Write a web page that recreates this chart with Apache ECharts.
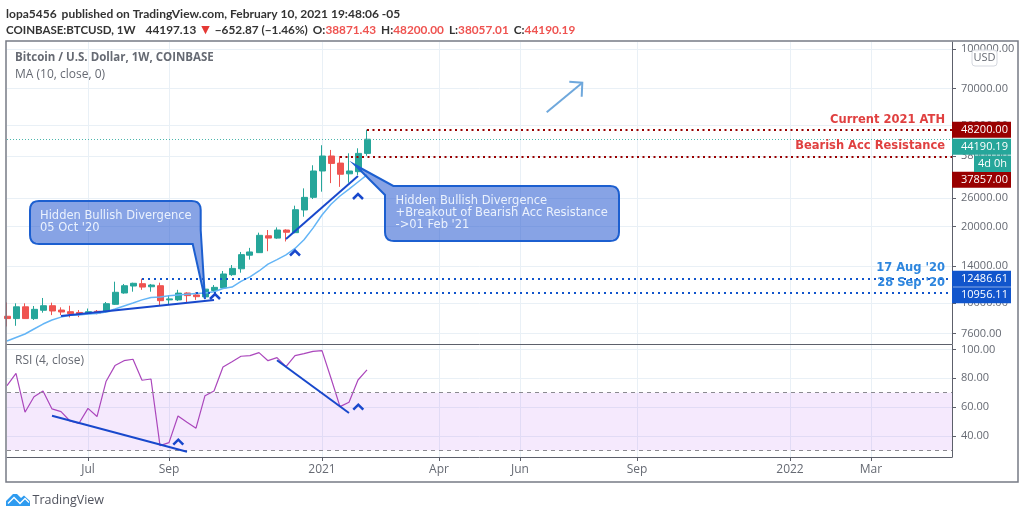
<!DOCTYPE html>
<html>
<head>
<meta charset="utf-8">
<style>
    html, body {margin:0;padding:0;background:#ffffff;}
    #chart {width:1024px;height:518px;}
</style>
<script src="https://cdn.jsdelivr.net/npm/echarts@6/dist/echarts.min.js"></script>
</head>
<body>
<div id="chart"></div>
<script>
    var weeks = [
        '2020-05-04','2020-05-11','2020-05-18','2020-05-25','2020-06-01','2020-06-08','2020-06-15','2020-06-22','2020-06-29','2020-07-06',
        '2020-07-13','2020-07-20','2020-07-27','2020-08-03','2020-08-10','2020-08-17','2020-08-24','2020-08-31','2020-09-07','2020-09-14',
        '2020-09-21','2020-09-28','2020-10-05','2020-10-12','2020-10-19','2020-10-26','2020-11-02','2020-11-09','2020-11-16','2020-11-23',
        '2020-11-30','2020-12-07','2020-12-14','2020-12-21','2020-12-28','2021-01-04','2021-01-11','2021-01-18','2021-01-25','2021-02-01',
        '2021-02-08','2021-02-15','2021-02-22','2021-03-01','2021-03-08','2021-03-15','2021-03-22','2021-03-29','2021-04-05','2021-04-12',
        '2021-04-19','2021-04-26','2021-05-03','2021-05-10','2021-05-17','2021-05-24','2021-05-31','2021-06-07','2021-06-14','2021-06-21',
        '2021-06-28','2021-07-05','2021-07-12','2021-07-19','2021-07-26','2021-08-02','2021-08-09','2021-08-16','2021-08-23','2021-08-30',
        '2021-09-06','2021-09-13','2021-09-20','2021-09-27','2021-10-04','2021-10-11','2021-10-18','2021-10-25','2021-11-01','2021-11-08',
        '2021-11-15','2021-11-22','2021-11-29','2021-12-06','2021-12-13','2021-12-20','2021-12-27','2022-01-03','2022-01-10','2022-01-17',
        '2022-01-24','2022-01-31','2022-02-07','2022-02-14','2022-02-21','2022-02-28','2022-03-07','2022-03-14','2022-03-21','2022-03-28',
        '2022-04-04','2022-04-11','2022-04-18','2022-04-25','2022-05-02','2022-05-09'
    ];
    var tickDates = ['2020-07-06','2020-09-07','2021-01-04','2021-04-05','2021-06-07','2021-09-06','2022-01-03','2022-03-07'];
    var tickNames = ['Jul','Sep','2021','Apr','Jun','Sep','2022','Mar'];
    var priceTicks = [7600,10000,14000,20000,26000,38000,50000,70000,100000];
    var rsiTicks = [40,60,80,100];

    // open, close, low, high
    var candles = [
        [8885,8700,8100,10070],[8700,9680,8150,9990],[9680,8700,8680,9990],[8700,9460,8590,9750],[9380,9775,9176,10486],
        [9775,9320,8980,10050],[9400,9235,8980,9635],[9260,9094,8795,9775],[9197,9070,8815,9400],[9094,9260,9045,9530],
        [9295,9127,9045,9400],[9260,9956,9176,10110],[9900,11040,9838,12152],[10970,11717,10900,11905],[11685,11978,11100,12043],
        [11934,11575,11290,12486],[11606,11790,11100,11905],[11717,10230,9838,12043],[10306,10400,9838,10748],[10306,10960,10210,11290],
        [10970,10710,10047,11040],[10780,10610,10306,11040],[10590,11360,10560,11460],[11225,11545,11077,11790],[11490,13031,11390,13390],
        [12950,13710,12810,14130],[13660,15530,13186,15910],[15450,15910,14840,16510],[15810,18500,15790,18950],[18430,18040,16020,19410],
        [18040,19410,17920,19880],[19410,19020,17500,19530],[18950,23330,18850,24200],[23280,26095,21895,28310],[26100,33140,25700,34900],
        [33140,37960,27473,41850],[37960,35500,29690,40100],[35600,32170,28700,37960],[32300,33140,29800,38900],[32930,38871,31970,40700],
        [38871.43,44190.19,38057.01,48200]
    ];
    var ma10 = [
        7100,7330,7565,7915,8280,8590,8815,8960,8979,9070,
        9110,9235,9485,9750,10020,10306,10540,10590,10690,10780,
        10850,10920,10970,11100,11420,11575,12190,12696,13390,14240,
        14840,15490,16420,17760,19750,22240,24500,26420,28130,30000,31970
    ];
    var rsi = [
        74.9,83.4,56.4,67.2,71.2,58.7,56.8,50.3,48.7,59.1,
        53.4,77.7,88.8,92.2,93.2,78.6,79.5,33.2,35.3,53.8,
        49.4,45.3,67.9,71.2,87.8,91.5,95.3,95.7,97.8,92.2,
        94.3,88.1,95.7,97.1,98.7,99.2,80,60.3,63.3,78.8,85.8
    ];

    var font = '"Open Sans", sans-serif';
    var headFont = 'Lato, sans-serif';
    var deco = 'DejaVu Sans, sans-serif';
    var lastIdx = weeks.length - 1;
    var blue = '#1848cc', tagBlue = '#1155cc', darkRed = '#990000', teal = '#26a69a';

    function isTick(idx, value) {return tickDates.indexOf(value) >= 0;}

    // rounded outline for the callouts, corners carry a radius as third item
    function outline(pts) {
        var out = [], n = pts.length;
        for (var i = 0; i < n; i++) {
            var p = pts[i], r = p[2] || 0;
            if (!r) {out.push([p[0], p[1]]);continue;}
            var a = pts[(i + n - 1) % n], b = pts[(i + 1) % n];
            var la = Math.hypot(a[0]-p[0], a[1]-p[1]), lb = Math.hypot(b[0]-p[0], b[1]-p[1]);
            var s = [p[0]+(a[0]-p[0])*r/la, p[1]+(a[1]-p[1])*r/la];
            var e = [p[0]+(b[0]-p[0])*r/lb, p[1]+(b[1]-p[1])*r/lb];
            for (var t = 0; t <= 1.001; t += 0.2) {
                out.push([
                    (1-t)*(1-t)*s[0]+2*t*(1-t)*p[0]+t*t*e[0],
                    (1-t)*(1-t)*s[1]+2*t*(1-t)*p[1]+t*t*e[1]
                ]);
            }
        }
        return out;
    }
    function callout(pts) {
        return {type:'polygon', z:60, silent:true, shape:{points:outline(pts)},
            style:{fill:'rgba(36,88,208,0.55)', stroke:'#1c5fd0', lineWidth:2}};
    }
    function note(x, y, text, size, color, weight, align, family) {
        return {type:'text', z:70, silent:true, x:x, y:y, style:{text:text, font:(weight||'normal')+' '+size+'px '+(family||font),
            fill:color, align:align||'left', verticalAlign:'middle'}};
    }
    function chevron(x, y) {
        return {type:'polyline', z:55, silent:true, shape:{points:[[x-5,y+3],[x,y-2],[x+5,y+3]]},
            style:{stroke:blue, lineWidth:2.5, fill:null}};
    }
    function hline(from, value, color, width, dash, tagColor, tagText, offset) {
        var start = {coord:[weeks[from], value], lineStyle:{color:color, width:width, type:dash}};
        start.label = tagText ? {show:true, position:'end', distance:0, offset:[0, offset||0], formatter:tagText,
            color:'#ffffff', fontFamily:font, fontSize:11, backgroundColor:tagColor, width:50, height:16, lineHeight:16,
            padding:[0,0,0,9], align:'left', verticalAlign:'middle'} : {show:false};
        return [start, {coord:[weeks[lastIdx], value]}];
    }
    function trend(i1, v1, i2, v2) {
        return [{coord:[weeks[i1], v1], lineStyle:{color:blue, width:2, type:'solid'}, label:{show:false}}, {coord:[weeks[i2], v2]}];
    }

    var chart = echarts.init(document.getElementById('chart'));
    var axisGray = '#5d606b', textGray = '#666a73', gridColor = '#e9f0f6';

    chart.setOption({
        animation:false,
        backgroundColor:'#ffffff',
        title:[{
            left:6, top:5, padding:0,
            text:'{b|lopa5456} {n|published on TradingView.com, February 10, 2021 19:48:06 -05}',
            textStyle:{rich:{b:{fontFamily:headFont,fontWeight:'bold',fontSize:12,color:'#333'},n:{fontFamily:headFont,fontSize:12,color:'#333'}}}
        },{
            left:6, top:21, padding:0,
            text:'{b|COINBASE:BTCUSD, 1W}  {n|44197.13} {t|\u25BC} {n|\u2212652.87 (\u22121.46%)} {c|O:}{r|38871.43} {c|H:}{r|48200.00} {c|L:}{r|38057.01} {c|C:}{r|44190.19}',
            textStyle:{rich:{
                b:{fontFamily:headFont,fontWeight:'bold',fontSize:11.5,color:'#333'},
                c:{fontFamily:headFont,fontWeight:'bold',fontSize:11.8,color:'#333'},
                n:{fontFamily:headFont,fontSize:11.8,color:'#333'},
                r:{fontFamily:headFont,fontSize:11.8,color:'#ef5350'},
                t:{fontFamily:deco,fontSize:11,color:'#e53935'}
            }}
        }],
        grid:[
            {left:7, width:945, top:42, height:302},
            {left:7, width:945, top:345, height:112}
        ],
        xAxis:[{
            type:'category', gridIndex:0, data:weeks, boundaryGap:false,
            axisLine:{show:true, lineStyle:{color:axisGray, width:1}},
            axisTick:{show:false}, axisLabel:{show:false},
            splitLine:{show:true, interval:isTick, lineStyle:{color:gridColor}}
        },{
            type:'category', gridIndex:1, data:weeks, boundaryGap:false,
            axisLine:{show:true, lineStyle:{color:axisGray, width:1}},
            axisTick:{show:true, interval:isTick, length:4, lineStyle:{color:axisGray}},
            axisLabel:{show:true, interval:isTick, color:textGray, fontFamily:font, fontSize:12, margin:7,
                formatter:function (v) {return tickNames[tickDates.indexOf(v)];}},
            splitLine:{show:true, interval:isTick, lineStyle:{color:gridColor}}
        }],
        yAxis:[{
            type:'log', gridIndex:0, position:'right', min:6910, max:106650,
            axisLine:{show:true, lineStyle:{color:axisGray, width:1}},
            axisTick:{show:true, length:4, customValues:priceTicks, lineStyle:{color:axisGray}},
            axisLabel:{show:true, customValues:priceTicks, color:textGray, fontFamily:font, fontSize:11, margin:9,
                formatter:function (v) {return Number(v).toFixed(2);}},
            splitLine:{show:true, lineStyle:{color:gridColor}},
            minorTick:{show:false}, minorSplitLine:{show:false}
        },{
            type:'value', gridIndex:1, position:'right', min:25.3, max:103.1,
            axisLine:{show:true, lineStyle:{color:axisGray, width:1}},
            axisTick:{show:true, length:4, customValues:rsiTicks, lineStyle:{color:axisGray}},
            axisLabel:{show:true, customValues:rsiTicks, color:textGray, fontFamily:font, fontSize:11, margin:9,
                formatter:function (v) {return Number(v).toFixed(2);}},
            splitLine:{show:true, lineStyle:{color:gridColor}}
        }],
        series:[{
            name:'BTCUSD', type:'candlestick', xAxisIndex:0, yAxisIndex:0, data:candles, barWidth:6.5, silent:true,
            itemStyle:{color:teal, color0:'#ef5350', borderColor:teal, borderColor0:'#ef5350', borderWidth:1},
            markLine:{
                silent:true, symbol:['none','none'], animation:false, precision:2,
                data:[
                    hline(0, 44190.19, '#4db6ac', 1, [1,2], teal, '44190.19', 7.5),
                    hline(40, 48200, darkRed, 2, [2,3.5], darkRed, '48200.00', 0),
                    hline(37, 37857, darkRed, 2, [2,3.5], darkRed, '37857.00', 23.5),
                    hline(15, 12486.61, tagBlue, 2, [2,4], tagBlue, '12486.61', 0),
                    hline(21, 10956.11, tagBlue, 2, [2,4], tagBlue, '10956.11', 2),
                    trend(6, 8900, 23, 10290),
                    trend(31, 17880, 39, 31700)
                ]
            }
        },{
            name:'MA', type:'line', xAxisIndex:0, yAxisIndex:0, data:ma10, symbol:'none', silent:true,
            lineStyle:{color:'#64b5f6', width:1.5}, smooth:false, z:3
        },{
            name:'RSI', type:'line', xAxisIndex:1, yAxisIndex:1, data:rsi, symbol:'none', silent:true,
            lineStyle:{color:'#ab47bc', width:1.2},
            markArea:{silent:true, itemStyle:{color:'rgba(155,39,235,0.10)'},
                data:[[{coord:[weeks[0],70]},{coord:[weeks[lastIdx],30]}]]},
            markLine:{
                silent:true, symbol:['none','none'], animation:false,
                data:[
                    [{coord:[weeks[0],70], lineStyle:{color:'#8a8a90', width:1, type:[4,4]}, label:{show:false}},{coord:[weeks[lastIdx],70]}],
                    [{coord:[weeks[0],30], lineStyle:{color:'#8a8a90', width:1, type:[4,4]}, label:{show:false}},{coord:[weeks[lastIdx],30]}],
                    trend(5, 54, 20, 29),
                    trend(30, 92.5, 38, 55.9)
                ]
            }
        }],
        graphic:[
            {type:'rect', z:50, silent:true, shape:{x:6,y:41,width:1012,height:441}, style:{fill:null, stroke:'#777b85', lineWidth:1.5}},
            note(15, 58, 'Bitcoin / U.S. Dollar, 1W, COINBASE', 11.5, '#666a73', 'bold'),
            note(15, 75, 'MA (10, close, 0)', 12, '#666a73'),
            note(15, 361, 'RSI (4, close)', 12, '#666a73'),

            {type:'rect', z:65, silent:true, shape:{x:972,y:50,width:25,height:16,r:3}, style:{fill:'rgba(255,255,255,0.9)', stroke:'#d5d8df', lineWidth:1}},
            note(984.5, 58, 'USD', 11, '#666a73', 'normal', 'center'),
            {type:'rect', z:65, silent:true, shape:{x:974,y:155.5,width:37,height:16.5}, style:{fill:teal}},
            note(992.5, 164, '4d 0h', 11, '#ffffff', 'normal', 'center'),

            note(945, 120, 'Current 2021 ATH', 11.5, '#e04040', 'bold', 'right', deco),
            note(945, 146.5, 'Bearish Acc Resistance', 11.5, '#e04040', 'bold', 'right', deco),
            note(945, 268.5, '17 Aug \'20', 11.5, '#2e86de', 'bold', 'right', deco),
            note(945, 283, '28 Sep \'20', 11.5, '#2e86de', 'bold', 'right', deco),

            callout([[30,201,9],[200.7,201,9],[200.7,230],[205,299],[192.7,244],[30,244,9]]),
            note(40, 216, 'Hidden Bullish Divergence', 11.5, '#eaf1fd', 'normal', 'left', deco),
            note(40, 228, '05 Oct \'20', 11.5, '#eaf1fd', 'normal', 'left', deco),
            callout([[355,165],[393.3,186],[619,186,9],[619,241,9],[385,241,9],[385,195]]),
            note(395.5, 201, 'Hidden Bullish Divergence', 11.5, '#eaf1fd', 'normal', 'left', deco),
            note(395.5, 213, '+Breakout of Bearish Acc Resistance', 11.5, '#eaf1fd', 'normal', 'left', deco),
            note(395.5, 225, '->01 Feb \'21', 11.5, '#eaf1fd', 'normal', 'left', deco),

            {type:'polyline', z:55, silent:true, shape:{points:[[546.7,112.3],[582.3,82.7]]}, style:{stroke:'#6fa8dc', lineWidth:2, fill:null}},
            {type:'polyline', z:55, silent:true, shape:{points:[[569.3,81.7],[582.3,82.7],[581.7,96.7]]}, style:{stroke:'#6fa8dc', lineWidth:2, fill:null}},

            chevron(215, 296),
            chevron(295, 252.5),
            chevron(358, 196),
            chevron(178.3, 441.7),
            chevron(358.3, 406.7),

            {type:'polygon', z:50, silent:true, shape:{points:[[6,506],[6,501],[13,494],[17,494],[21,498],[24,495.5],[30,501],[30,506]]}, style:{fill:'#2e9bf0'}},
            {type:'polyline', z:51, silent:true, shape:{points:[[8,503.5],[14,497.5],[20,503.5],[25,498.5],[29,502.5]]}, style:{stroke:'#ffffff', lineWidth:1.3, fill:null}},
            note(32.5, 500.5, 'TradingView', 12.5, '#50535e')
        ]
    });
</script>
</body>
</html>
